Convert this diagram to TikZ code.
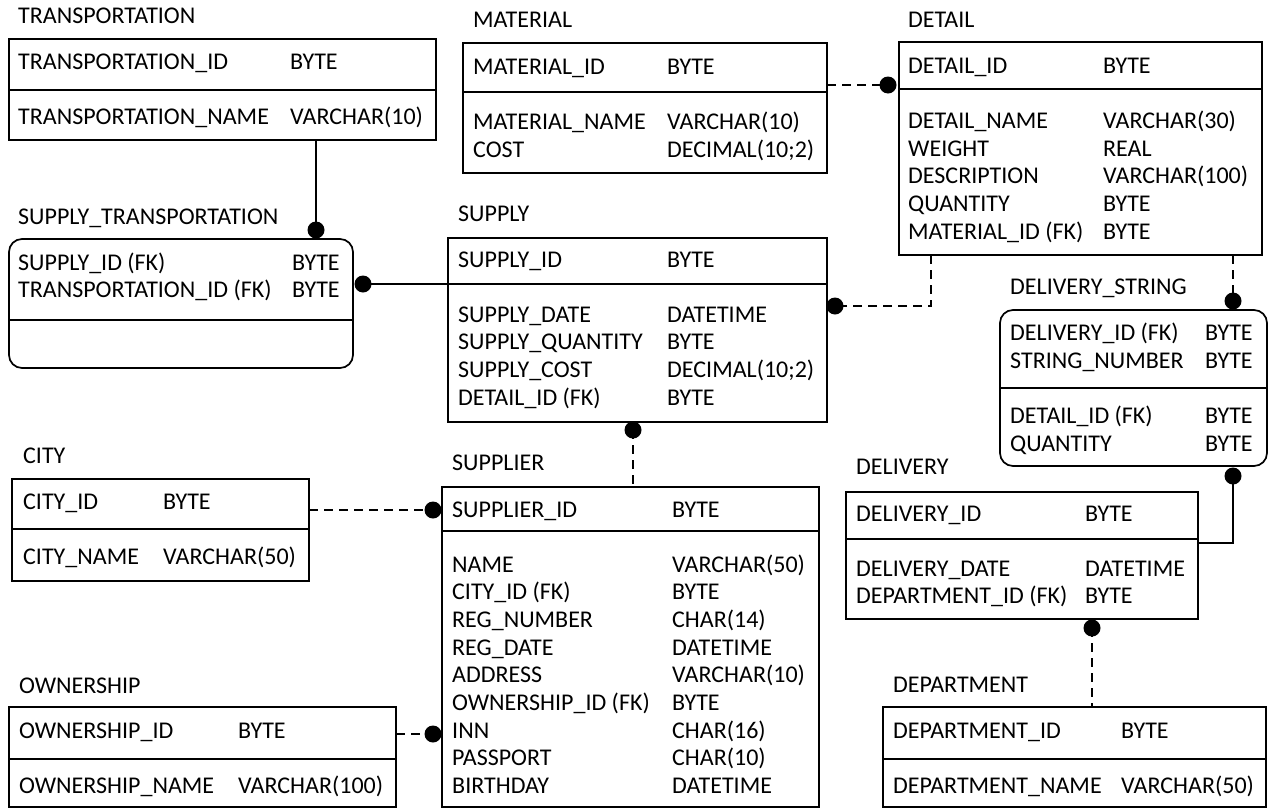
\documentclass[tikz,border=0pt]{standalone}
\usepackage{fontspec}
\setmainfont{Carlito}
\newcommand{\fs}{\fontsize{24}{28}\selectfont}
\begin{document}
\begin{tikzpicture}[x=1pt,y=-1pt,
 tbl/.style={draw, line width=1.7pt, inner sep=0pt, outer sep=0pt, anchor=north west},
 rtbl/.style={tbl, rounded corners=13pt},
 divl/.style={line width=1.7pt},
 txt/.style={anchor=base west, inner sep=0pt, font=\fs},
 conn/.style={line width=2.6pt},
 dconn/.style={line width=2.6pt, dash pattern=on 9pt off 6pt},
 dotn/.style={circle, fill=black, minimum size=17pt, inner sep=0pt}]
\useasboundingbox (0,0) rectangle (1269,809);

% TRANSPORTATION
\node[txt] (tTr) at (18,23) {TRANSPORTATION};
\node[tbl, minimum width=427pt, minimum height=101pt] (transportation) at (9,39) {};
\draw[divl] (9,90) -- (436,90);
\node[txt] (tr1) at (18,69) {TRANSPORTATION\_ID};
\node[txt] (tr1t) at (290,69) {BYTE};
\node[txt] (tr2) at (18,124) {TRANSPORTATION\_NAME};
\node[txt] (tr2t) at (290,124) {VARCHAR(10)};

% SUPPLY_TRANSPORTATION
\node[txt] (tST) at (18,224) {SUPPLY\_TRANSPORTATION};
\node[rtbl, minimum width=344pt, minimum height=129pt] (supplytr) at (9,239) {};
\draw[divl] (9,320) -- (353,320);
\node[txt] (st1) at (18,270) {SUPPLY\_ID (FK)};
\node[txt] (st1t) at (292,270) {BYTE};
\node[txt] (st2) at (18,297) {TRANSPORTATION\_ID (FK)};
\node[txt] (st2t) at (292,297) {BYTE};

% MATERIAL
\node[txt] (tMa) at (473,27) {MATERIAL};
\node[tbl, minimum width=364pt, minimum height=130pt] (material) at (463,43) {};
\draw[divl] (463,92) -- (827,92);
\node[txt] (ma1) at (473,74) {MATERIAL\_ID};
\node[txt] (ma1t) at (667,74) {BYTE};
\node[txt] (ma2) at (473,129) {MATERIAL\_NAME};
\node[txt] (ma2t) at (667,129) {VARCHAR(10)};
\node[txt] (ma3) at (473,157) {COST};
\node[txt] (ma3t) at (667,157) {DECIMAL(10;2)};

% DETAIL
\node[txt] (tDe) at (908,27) {DETAIL};
\node[tbl, minimum width=363pt, minimum height=213pt] (detail) at (899,42) {};
\draw[divl] (899,89) -- (1262,89);
\node[txt] (de1) at (908,73) {DETAIL\_ID};
\node[txt] (de1t) at (1103,73) {BYTE};
\node[txt] (de2) at (908,128) {DETAIL\_NAME};
\node[txt] (de2t) at (1103,128) {VARCHAR(30)};
\node[txt] (de3) at (908,156) {WEIGHT};
\node[txt] (de3t) at (1103,156) {REAL};
\node[txt] (de4) at (908,183) {DESCRIPTION};
\node[txt] (de4t) at (1103,183) {VARCHAR(100)};
\node[txt] (de5) at (908,211) {QUANTITY};
\node[txt] (de5t) at (1103,211) {BYTE};
\node[txt] (de6) at (908,239) {MATERIAL\_ID (FK)};
\node[txt] (de6t) at (1103,239) {BYTE};

% SUPPLY
\node[txt] (tSu) at (458,221) {SUPPLY};
\node[tbl, minimum width=379pt, minimum height=184pt] (supply) at (448,238) {};
\draw[divl] (448,284) -- (827,284);
\node[txt] (su1) at (458,267) {SUPPLY\_ID};
\node[txt] (su1t) at (667,267) {BYTE};
\node[txt] (su2) at (458,322) {SUPPLY\_DATE};
\node[txt] (su2t) at (667,322) {DATETIME};
\node[txt] (su3) at (458,349) {SUPPLY\_QUANTITY};
\node[txt] (su3t) at (667,349) {BYTE};
\node[txt] (su4) at (458,377) {SUPPLY\_COST};
\node[txt] (su4t) at (667,377) {DECIMAL(10;2)};
\node[txt] (su5) at (458,405) {DETAIL\_ID (FK)};
\node[txt] (su5t) at (667,405) {BYTE};

% DELIVERY_STRING
\node[txt] (tDS) at (1010,294) {DELIVERY\_STRING};
\node[rtbl, minimum width=267pt, minimum height=156pt] (delstring) at (1000,310) {};
\draw[divl] (1000,388) -- (1267,388);
\node[txt] (ds1) at (1010,340) {DELIVERY\_ID (FK)};
\node[txt] (ds1t) at (1205,340) {BYTE};
\node[txt] (ds2) at (1010,368) {STRING\_NUMBER};
\node[txt] (ds2t) at (1205,368) {BYTE};
\node[txt] (ds3) at (1010,423) {DETAIL\_ID (FK)};
\node[txt] (ds3t) at (1205,423) {BYTE};
\node[txt] (ds4) at (1010,451) {QUANTITY};
\node[txt] (ds4t) at (1205,451) {BYTE};

% CITY
\node[txt] (tCi) at (23,463) {CITY};
\node[tbl, minimum width=297pt, minimum height=102pt] (city) at (12,479) {};
\draw[divl] (12,529) -- (309,529);
\node[txt] (ci1) at (23,509) {CITY\_ID};
\node[txt] (ci1t) at (163,509) {BYTE};
\node[txt] (ci2) at (23,564) {CITY\_NAME};
\node[txt] (ci2t) at (163,564) {VARCHAR(50)};

% SUPPLIER
\node[txt] (tSr) at (452,470) {SUPPLIER};
\node[tbl, minimum width=377pt, minimum height=320pt] (supplier) at (442,487) {};
\draw[divl] (442,531) -- (819,531);
\node[txt] (sr1) at (452,517) {SUPPLIER\_ID};
\node[txt] (sr1t) at (672,517) {BYTE};
\node[txt] (sr2) at (452,572) {NAME};
\node[txt] (sr2t) at (672,572) {VARCHAR(50)};
\node[txt] (sr3) at (452,599) {CITY\_ID (FK)};
\node[txt] (sr3t) at (672,599) {BYTE};
\node[txt] (sr4) at (452,627) {REG\_NUMBER};
\node[txt] (sr4t) at (672,627) {CHAR(14)};
\node[txt] (sr5) at (452,655) {REG\_DATE};
\node[txt] (sr5t) at (672,655) {DATETIME};
\node[txt] (sr6) at (452,682) {ADDRESS};
\node[txt] (sr6t) at (672,682) {VARCHAR(10)};
\node[txt] (sr7) at (452,710) {OWNERSHIP\_ID (FK)};
\node[txt] (sr7t) at (672,710) {BYTE};
\node[txt] (sr8) at (452,738) {INN};
\node[txt] (sr8t) at (672,738) {CHAR(16)};
\node[txt] (sr9) at (452,765) {PASSPORT};
\node[txt] (sr9t) at (672,765) {CHAR(10)};
\node[txt] (sr10) at (452,793) {BIRTHDAY};
\node[txt] (sr10t) at (672,793) {DATETIME};

% OWNERSHIP
\node[txt] (tOw) at (19,693) {OWNERSHIP};
\node[tbl, minimum width=387pt, minimum height=100pt] (ownership) at (9,707) {};
\draw[divl] (9,759) -- (396,759);
\node[txt] (ow1) at (19,738) {OWNERSHIP\_ID};
\node[txt] (ow1t) at (238,738) {BYTE};
\node[txt] (ow2) at (19,793) {OWNERSHIP\_NAME};
\node[txt] (ow2t) at (238,793) {VARCHAR(100)};

% DELIVERY
\node[txt] (tDl) at (856,474) {DELIVERY};
\node[tbl, minimum width=352pt, minimum height=127pt] (delivery) at (846,492) {};
\draw[divl] (846,539) -- (1198,539);
\node[txt] (dl1) at (856,521) {DELIVERY\_ID};
\node[txt] (dl1t) at (1085,521) {BYTE};
\node[txt] (dl2) at (856,576) {DELIVERY\_DATE};
\node[txt] (dl2t) at (1085,576) {DATETIME};
\node[txt] (dl3) at (856,603) {DEPARTMENT\_ID (FK)};
\node[txt] (dl3t) at (1085,603) {BYTE};

% DEPARTMENT
\node[txt] (tDp) at (893,692) {DEPARTMENT};
\node[tbl, minimum width=383pt, minimum height=100pt] (department) at (883,707) {};
\draw[divl] (883,759) -- (1266,759);
\node[txt] (dp1) at (893,738) {DEPARTMENT\_ID};
\node[txt] (dp1t) at (1121,738) {BYTE};
\node[txt] (dp2) at (893,793) {DEPARTMENT\_NAME};
\node[txt] (dp2t) at (1121,793) {VARCHAR(50)};

% dots
\node[dotn] (d1) at (316,230) {};
\node[dotn] (d2) at (363,284) {};
\node[dotn] (d3) at (888,85) {};
\node[dotn] (d4) at (835,306) {};
\node[dotn] (d5) at (633,430) {};
\node[dotn] (d6) at (1233,301) {};
\node[dotn] (d7) at (1233,476) {};
\node[dotn] (d8) at (1092,628) {};
\node[dotn] (d9) at (433,510) {};
\node[dotn] (d10) at (433,734) {};
\coordinate (c4) at (931,306);
\coordinate (c7) at (1233,543);

% connectors
\draw[conn] (d1 |- transportation.south) -- (d1.center);
\draw[conn] (d2.center) -- (d2 -| supply.west);
\draw[dconn] (d3 -| material.east) -- (d3.center);
\draw[dconn] (c4 |- detail.south) -- (c4) -- (d4.center);
\draw[dconn] (d5.center) -- (d5 |- supplier.north);
\draw[dconn] (d6 |- detail.south) -- (d6.center);
\draw[conn] (d7.center) -- (c7) -- (c7 -| delivery.east);
\draw[dconn] (d8.center) -- (d8 |- department.north);
\draw[dconn] (d9 -| city.east) -- (d9.center);
\draw[dconn] (d10 -| ownership.east) -- (d10.center);
\end{tikzpicture}
\end{document}
